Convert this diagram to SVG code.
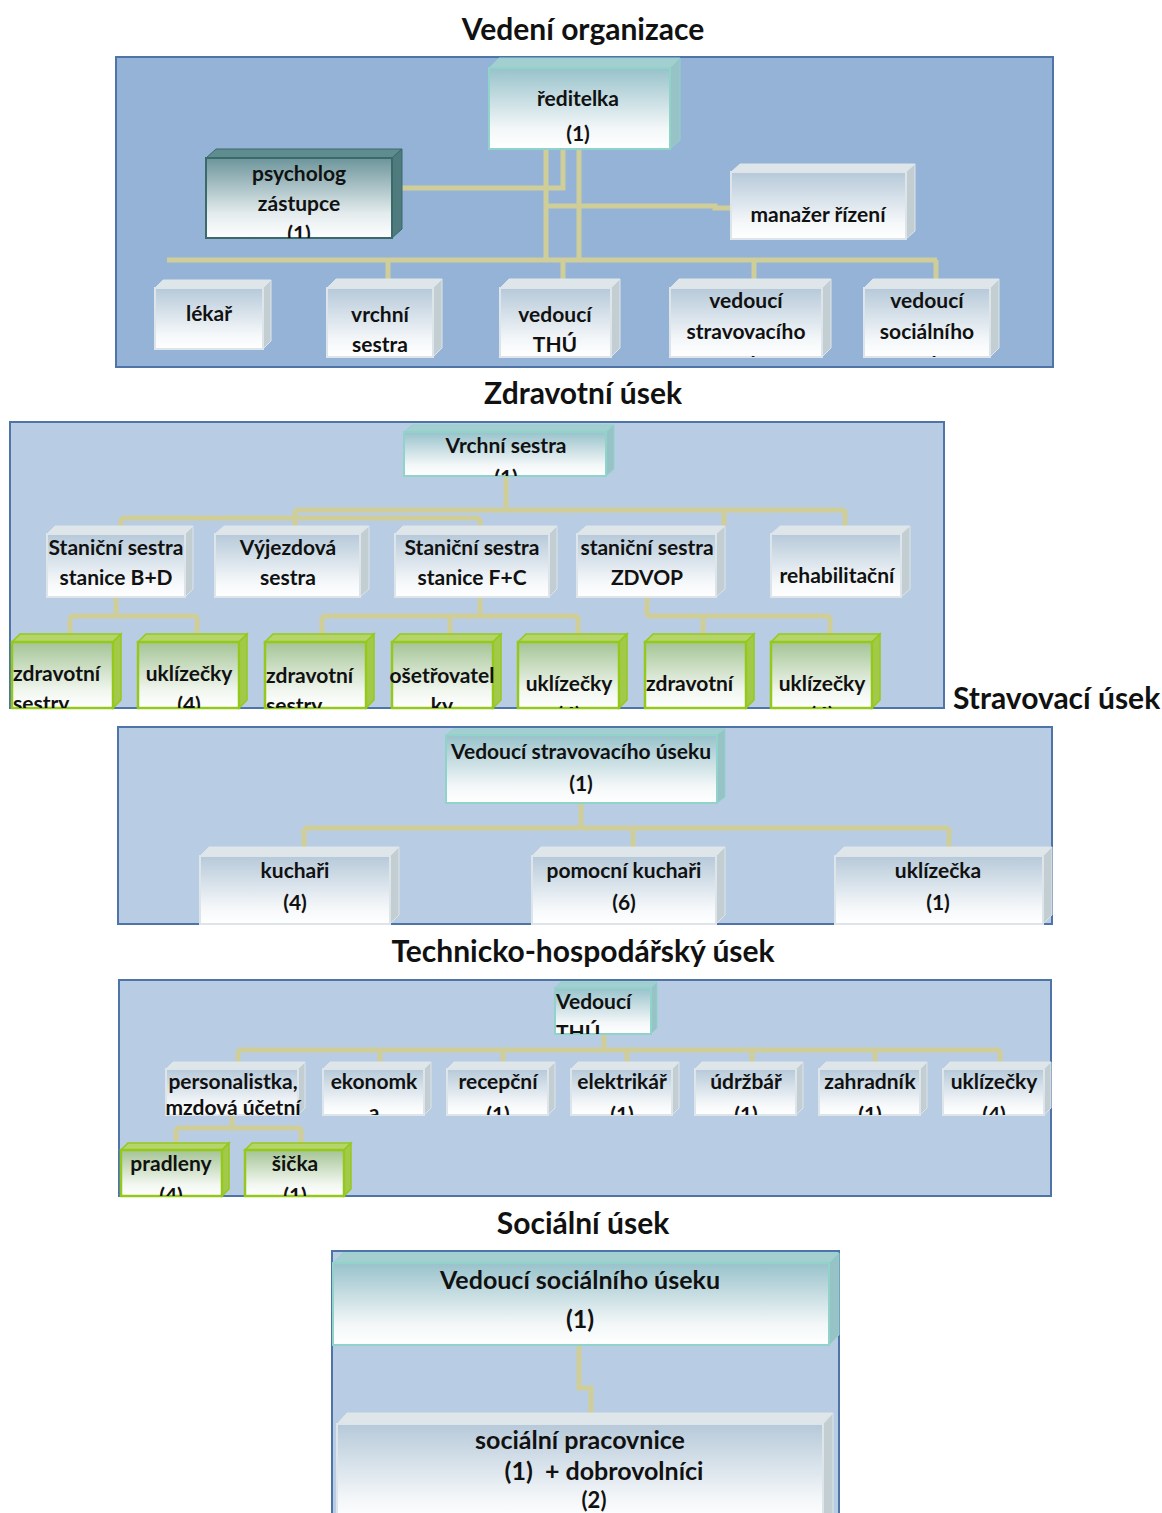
<svg xmlns="http://www.w3.org/2000/svg" width="1162" height="1513" viewBox="0 0 1162 1513">
<defs>
<style>
.bg{fill:#ffffff}
.p1{fill:#95b3d7;stroke:#4f74a8;stroke-width:2}
.p{fill:#b8cce4;stroke:#4f74a8;stroke-width:2}
.c{stroke:#cfcd98;stroke-width:5;fill:none;stroke-linecap:butt}
.t{font-family:Lato,"Open Sans","Liberation Sans",sans-serif;font-weight:bold;font-size:21px;fill:#111;text-anchor:middle}
.t.l{text-anchor:start}
.h{font-family:Lato,"Open Sans","Liberation Sans",sans-serif;font-weight:bold;font-size:30px;fill:#111;text-anchor:middle}
.h.l{text-anchor:start}
.big{font-size:25px}
.gf{fill:url(#gGrey);stroke:#dde5ea;stroke-width:2}
.gt{fill:#dfe6ea;stroke:#dde5ea;stroke-width:1}
.gs{fill:#c3ced3;stroke:#dde5ea;stroke-width:1}
.tf{fill:url(#gTeal);stroke:#8fd3cb;stroke-width:2}
.tt{fill:#a3cfd0;stroke:#8fd3cb;stroke-width:1}
.ts{fill:#97c2c6;stroke:#8fd3cb;stroke-width:1}
.df{fill:url(#gDark);stroke:#3b6a6a;stroke-width:2}
.dt{fill:#5f8c8f;stroke:#3b6a6a;stroke-width:1}
.ds{fill:#4f7a7e;stroke:#3b6a6a;stroke-width:1}
.ef{fill:url(#gGreen);stroke:#94c91c;stroke-width:2.5}
.et{fill:#b5d56a;stroke:#94c91c;stroke-width:1.5}
.es{fill:#a3c94a;stroke:#94c91c;stroke-width:1.5}
</style>
<linearGradient id="gGrey" x1="0" y1="0" x2="0" y2="1"><stop offset="0" stop-color="#b6c9d9"/><stop offset="0.75" stop-color="#f4f7f9"/><stop offset="1" stop-color="#ffffff"/></linearGradient>
<linearGradient id="gTeal" x1="0" y1="0" x2="0" y2="1"><stop offset="0" stop-color="#98c2cb"/><stop offset="0.75" stop-color="#f3f7f8"/><stop offset="1" stop-color="#ffffff"/></linearGradient>
<linearGradient id="gDark" x1="0" y1="0" x2="0" y2="1"><stop offset="0" stop-color="#6c959b"/><stop offset="0.7" stop-color="#e4ecee"/><stop offset="1" stop-color="#ffffff"/></linearGradient>
<linearGradient id="gGreen" x1="0" y1="0" x2="0" y2="1"><stop offset="0" stop-color="#a4c495"/><stop offset="0.75" stop-color="#f2f7f0"/><stop offset="1" stop-color="#ffffff"/></linearGradient>
<clipPath id="cPsych"><rect x="206" y="158" width="186" height="80"/></clipPath>
<clipPath id="cStrav"><rect x="670" y="288" width="152" height="69"/></clipPath>
<clipPath id="cSoc"><rect x="864" y="288" width="126" height="69"/></clipPath>
<clipPath id="cVs"><rect x="404" y="432" width="202" height="44"/></clipPath>
<clipPath id="cRow3"><rect x="0" y="600" width="944" height="108"/></clipPath>
<clipPath id="cVthu"><rect x="555" y="988" width="96" height="46"/></clipPath>
<clipPath id="cRow4"><rect x="119" y="1069" width="932" height="46"/></clipPath>
<clipPath id="cG4"><rect x="119" y="1150" width="300" height="46"/></clipPath>
</defs>
<rect class="bg" x="0" y="0" width="1162" height="1513"/>

<!-- Section titles and panels -->
<g id="section-vedeni">
<text class="h" x="583" y="40">Vedení organizace</text>
<rect class="p1" x="116" y="57" width="937" height="310"/>
</g>
<g id="section-zdravotni">
<text class="h" x="583" y="404">Zdravotní úsek</text>
<rect class="p" x="10" y="422" width="934" height="286"/>
</g>
<g id="section-stravovaci">
<text class="h l" x="953" y="709">Stravovací úsek</text>
<rect class="p" x="118" y="727" width="934" height="197"/>
</g>
<g id="section-thu">
<text class="h" x="583" y="962">Technicko-hospodářský úsek</text>
<rect class="p" x="119" y="980" width="932" height="216"/>
</g>
<g id="section-socialni">
<text class="h" x="583" y="1234">Sociální úsek</text>
<rect class="p" x="332" y="1251" width="507" height="270"/>
</g>

<!-- Connectors -->
<g id="connectors">
<path class="c" d="M546 149V260 M579 149V260 M563 149V188H392 M546 206H715V208H731"/>
<path class="c" d="M167 260H937 M388 258V288 M563 260V279 M754 260V279 M936 260V279"/>
<path class="c" d="M506 476V510 M295 510H845 M121 518H480 M121 518V526 M295 510V526 M480 518V526 M724 510V526 M845 510V526"/>
<path class="c" d="M116 597V616 M70 616H197 M70 616V634 M197 616V634"/>
<path class="c" d="M480 597V616 M322 616H578 M322 616V634 M450 616V634 M578 616V634"/>
<path class="c" d="M647 597V616 M647 616H830 M703 616V634 M830 616V634"/>
<path class="c" d="M581 803V828 M304 828H949 M304 828V847 M633 828V847 M949 828V847"/>
<path class="c" d="M604 1034V1050 M238 1050H1000 M238 1050V1062 M380 1050V1062 M503 1050V1062 M627 1050V1062 M752 1050V1062 M875 1050V1062 M1000 1050V1062"/>
<path class="c" d="M232 1115V1128 M176 1128H301 M176 1128V1143 M301 1128V1143"/>
<path class="c" d="M579 1345V1388H591V1415"/>
</g>

<!-- Section 1 nodes -->
<g id="n-reditelka">
<polygon class="tt" points="489,68 499,58 680,58 670,68"/>
<polygon class="ts" points="670,68 680,58 680,140 670,149"/>
<rect class="tf" x="489" y="68" width="181" height="81"/>
<text class="t" x="578" y="106">ředitelka</text>
<text class="t" x="578" y="141">(1)</text>
</g>
<g id="n-psycholog">
<polygon class="dt" points="206,158 216,149 402,149 392,158"/>
<polygon class="ds" points="392,158 402,149 402,229 392,238"/>
<rect class="df" x="206" y="158" width="186" height="80"/>
<g clip-path="url(#cPsych)">
<text class="t" x="299" y="181">psycholog</text>
<text class="t" x="299" y="211">zástupce</text>
<text class="t" x="299" y="241">(1)</text>
</g>
</g>
<g id="n-manazer">
<polygon class="gt" points="731,172 740,164 915,164 906,172"/>
<polygon class="gs" points="906,172 915,164 915,231 906,239"/>
<rect class="gf" x="731" y="172" width="175" height="67"/>
<text class="t" x="818" y="222">manažer řízení</text>
</g>
<g id="n-lekar">
<polygon class="gt" points="155,288 163,280 271,280 263,288"/>
<polygon class="gs" points="263,288 271,280 271,341 263,349"/>
<rect class="gf" x="155" y="288" width="108" height="61"/>
<text class="t" x="209" y="321">lékař</text>
</g>
<g id="n-vrchni">
<polygon class="gt" points="327,288 336,279 442,279 433,288"/>
<polygon class="gs" points="433,288 442,279 442,348 433,357"/>
<rect class="gf" x="327" y="288" width="106" height="69"/>
<text class="t" x="380" y="322">vrchní</text>
<text class="t" x="380" y="352">sestra</text>
</g>
<g id="n-vedouci-thu">
<polygon class="gt" points="500,288 509,279 620,279 611,288"/>
<polygon class="gs" points="611,288 620,279 620,348 611,357"/>
<rect class="gf" x="500" y="288" width="111" height="69"/>
<text class="t" x="555" y="322">vedoucí</text>
<text class="t" x="555" y="352">THÚ</text>
</g>
<g id="n-vedouci-strav">
<polygon class="gt" points="670,288 679,279 831,279 822,288"/>
<polygon class="gs" points="822,288 831,279 831,348 822,357"/>
<rect class="gf" x="670" y="288" width="152" height="69"/>
<g clip-path="url(#cStrav)">
<text class="t" x="746" y="308">vedoucí</text>
<text class="t" x="746" y="339">stravovacího</text>
<text class="t" x="746" y="372">úseku</text>
</g>
</g>
<g id="n-vedouci-soc">
<polygon class="gt" points="864,288 873,279 999,279 990,288"/>
<polygon class="gs" points="990,288 999,279 999,348 990,357"/>
<rect class="gf" x="864" y="288" width="126" height="69"/>
<g clip-path="url(#cSoc)">
<text class="t" x="927" y="308">vedoucí</text>
<text class="t" x="927" y="339">sociálního</text>
<text class="t" x="927" y="372">úseku</text>
</g>
</g>

<!-- Section 2 nodes -->
<g id="n-vrchni-sestra">
<polygon class="tt" points="404,432 412,425 614,425 606,432"/>
<polygon class="ts" points="606,432 614,425 614,469 606,476"/>
<rect class="tf" x="404" y="432" width="202" height="44"/>
<g clip-path="url(#cVs)">
<text class="t" x="506" y="453">Vrchní sestra</text>
<text class="t" x="506" y="485">(1)</text>
</g>
</g>
<g id="n-stanicni-bd">
<polygon class="gt" points="47,534 55,526 193,526 185,534"/>
<polygon class="gs" points="185,534 193,526 193,589 185,597"/>
<rect class="gf" x="47" y="534" width="138" height="63"/>
<text class="t" x="116" y="555">Staniční sestra</text>
<text class="t" x="116" y="585">stanice B+D</text>
</g>
<g id="n-vyjezdova">
<polygon class="gt" points="215,534 224,526 369,526 360,534"/>
<polygon class="gs" points="360,534 369,526 369,589 360,597"/>
<rect class="gf" x="215" y="534" width="145" height="63"/>
<text class="t" x="288" y="555">Výjezdová</text>
<text class="t" x="288" y="585">sestra</text>
</g>
<g id="n-stanicni-fc">
<polygon class="gt" points="395,534 403,526 557,526 549,534"/>
<polygon class="gs" points="549,534 557,526 557,589 549,597"/>
<rect class="gf" x="395" y="534" width="154" height="63"/>
<text class="t" x="472" y="555">Staniční sestra</text>
<text class="t" x="472" y="585">stanice F+C</text>
</g>
<g id="n-stanicni-zdvop">
<polygon class="gt" points="577,534 586,526 725,526 716,534"/>
<polygon class="gs" points="716,534 725,526 725,589 716,597"/>
<rect class="gf" x="577" y="534" width="139" height="63"/>
<text class="t" x="647" y="555">staniční sestra</text>
<text class="t" x="647" y="585">ZDVOP</text>
</g>
<g id="n-rehabilitacni">
<polygon class="gt" points="771,534 780,526 910,526 901,534"/>
<polygon class="gs" points="901,534 910,526 910,589 901,597"/>
<rect class="gf" x="771" y="534" width="130" height="63"/>
<text class="t" x="837" y="583">rehabilitační</text>
</g>

<g id="n-zs-bd">
<polygon class="et" points="12,642 20,634 121,634 113,642"/>
<polygon class="es" points="113,642 121,634 121,700 113,708"/>
<rect class="ef" x="12" y="642" width="101" height="66"/>
<g clip-path="url(#cRow3)">
<text class="t l" x="13" y="681">zdravotní</text>
<text class="t l" x="13" y="711">sestry</text>
</g>
</g>
<g id="n-uk-bd">
<polygon class="et" points="138,642 146,634 247,634 239,642"/>
<polygon class="es" points="239,642 247,634 247,700 239,708"/>
<rect class="ef" x="138" y="642" width="101" height="66"/>
<g clip-path="url(#cRow3)">
<text class="t" x="189" y="681">uklízečky</text>
<text class="t" x="189" y="712">(4)</text>
</g>
</g>
<g id="n-zs-fc">
<polygon class="et" points="265,642 273,634 374,634 366,642"/>
<polygon class="es" points="366,642 374,634 374,700 366,708"/>
<rect class="ef" x="265" y="642" width="101" height="66"/>
<g clip-path="url(#cRow3)">
<text class="t l" x="266" y="683">zdravotní</text>
<text class="t l" x="266" y="713">sestry</text>
</g>
</g>
<g id="n-osetrovatelky">
<polygon class="et" points="392,642 400,634 501,634 493,642"/>
<polygon class="es" points="493,642 501,634 501,700 493,708"/>
<rect class="ef" x="392" y="642" width="101" height="66"/>
<g clip-path="url(#cRow3)">
<text class="t" x="442" y="683">ošetřovatel</text>
<text class="t" x="442" y="713">ky</text>
</g>
</g>
<g id="n-uk-fc">
<polygon class="et" points="518,642 526,634 627,634 619,642"/>
<polygon class="es" points="619,642 627,634 627,700 619,708"/>
<rect class="ef" x="518" y="642" width="101" height="66"/>
<g clip-path="url(#cRow3)">
<text class="t" x="569" y="691">uklízečky</text>
<text class="t" x="569" y="722">(4)</text>
</g>
</g>
<g id="n-zs-zdvop">
<polygon class="et" points="645,642 653,634 754,634 746,642"/>
<polygon class="es" points="746,642 754,634 754,700 746,708"/>
<rect class="ef" x="645" y="642" width="101" height="66"/>
<g clip-path="url(#cRow3)">
<text class="t l" x="646" y="691">zdravotní</text>
</g>
</g>
<g id="n-uk-zdvop">
<polygon class="et" points="771,642 779,634 880,634 872,642"/>
<polygon class="es" points="872,642 880,634 880,700 872,708"/>
<rect class="ef" x="771" y="642" width="101" height="66"/>
<g clip-path="url(#cRow3)">
<text class="t" x="822" y="691">uklízečky</text>
<text class="t" x="822" y="722">(4)</text>
</g>
</g>

<!-- Section 3 nodes -->
<g id="n-vedouci-strav-useku">
<polygon class="tt" points="446,735 454,729 725,729 717,735"/>
<polygon class="ts" points="717,735 725,729 725,797 717,803"/>
<rect class="tf" x="446" y="735" width="271" height="68"/>
<text class="t" x="581" y="759">Vedoucí stravovacího úseku</text>
<text class="t" x="581" y="791">(1)</text>
</g>
<g id="n-kuchari">
<polygon class="gt" points="200,856 209,847 399,847 390,856"/>
<polygon class="gs" points="390,856 399,847 399,915 390,924"/>
<rect class="gf" x="200" y="856" width="190" height="68"/>
<text class="t" x="295" y="878">kuchaři</text>
<text class="t" x="295" y="910">(4)</text>
</g>
<g id="n-pomocni-kuchari">
<polygon class="gt" points="532,856 541,847 725,847 716,856"/>
<polygon class="gs" points="716,856 725,847 725,915 716,924"/>
<rect class="gf" x="532" y="856" width="184" height="68"/>
<text class="t" x="624" y="878">pomocní kuchaři</text>
<text class="t" x="624" y="910">(6)</text>
</g>
<g id="n-uklizecka">
<polygon class="gt" points="835,856 844,847 1052,847 1043,856"/>
<polygon class="gs" points="1043,856 1052,847 1052,915 1043,924"/>
<rect class="gf" x="835" y="856" width="208" height="68"/>
<text class="t" x="938" y="878">uklízečka</text>
<text class="t" x="938" y="910">(1)</text>
</g>

<!-- Section 4 nodes -->
<g id="n-vedouci-thu2">
<polygon class="tt" points="555,988 561,982 657,982 651,988"/>
<polygon class="ts" points="651,988 657,982 657,1028 651,1034"/>
<rect class="tf" x="555" y="988" width="96" height="46"/>
<g clip-path="url(#cVthu)">
<text class="t l" x="556" y="1009">Vedoucí</text>
<text class="t l" x="556" y="1040">THÚ</text>
</g>
</g>
<g id="n-personalistka">
<polygon class="gt" points="166,1069 173,1062 305,1062 298,1069"/>
<polygon class="gs" points="298,1069 305,1062 305,1108 298,1115"/>
<rect class="gf" x="166" y="1069" width="132" height="46"/>
<g clip-path="url(#cRow4)">
<text class="t" x="233" y="1089">personalistka,</text>
<text class="t" x="233" y="1115">mzdová účetní</text>
</g>
</g>
<g id="n-ekonomka">
<polygon class="gt" points="323,1069 330,1062 431,1062 424,1069"/>
<polygon class="gs" points="424,1069 431,1062 431,1108 424,1115"/>
<rect class="gf" x="323" y="1069" width="101" height="46"/>
<g clip-path="url(#cRow4)">
<text class="t" x="374" y="1089">ekonomk</text>
<text class="t" x="374" y="1120">a</text>
</g>
</g>
<g id="n-recepcni">
<polygon class="gt" points="447,1069 454,1062 555,1062 548,1069"/>
<polygon class="gs" points="548,1069 555,1062 555,1108 548,1115"/>
<rect class="gf" x="447" y="1069" width="101" height="46"/>
<g clip-path="url(#cRow4)">
<text class="t" x="498" y="1089">recepční</text>
<text class="t" x="498" y="1122">(1)</text>
</g>
</g>
<g id="n-elektrikar">
<polygon class="gt" points="571,1069 578,1062 679,1062 672,1069"/>
<polygon class="gs" points="672,1069 679,1062 679,1108 672,1115"/>
<rect class="gf" x="571" y="1069" width="101" height="46"/>
<g clip-path="url(#cRow4)">
<text class="t" x="622" y="1089">elektrikář</text>
<text class="t" x="622" y="1122">(1)</text>
</g>
</g>
<g id="n-udrzbar">
<polygon class="gt" points="695,1069 702,1062 803,1062 796,1069"/>
<polygon class="gs" points="796,1069 803,1062 803,1108 796,1115"/>
<rect class="gf" x="695" y="1069" width="101" height="46"/>
<g clip-path="url(#cRow4)">
<text class="t" x="746" y="1089">údržbář</text>
<text class="t" x="746" y="1122">(1)</text>
</g>
</g>
<g id="n-zahradnik">
<polygon class="gt" points="819,1069 826,1062 927,1062 920,1069"/>
<polygon class="gs" points="920,1069 927,1062 927,1108 920,1115"/>
<rect class="gf" x="819" y="1069" width="101" height="46"/>
<g clip-path="url(#cRow4)">
<text class="t" x="870" y="1089">zahradník</text>
<text class="t" x="870" y="1122">(1)</text>
</g>
</g>
<g id="n-uklizecky-thu">
<polygon class="gt" points="943,1069 950,1062 1051,1062 1044,1069"/>
<polygon class="gs" points="1044,1069 1051,1062 1051,1108 1044,1115"/>
<rect class="gf" x="943" y="1069" width="101" height="46"/>
<g clip-path="url(#cRow4)">
<text class="t" x="994" y="1089">uklízečky</text>
<text class="t" x="994" y="1122">(4)</text>
</g>
</g>
<g id="n-pradleny">
<polygon class="et" points="121,1150 128,1143 229,1143 222,1150"/>
<polygon class="es" points="222,1150 229,1143 229,1189 222,1196"/>
<rect class="ef" x="121" y="1150" width="101" height="46"/>
<g clip-path="url(#cG4)">
<text class="t" x="171" y="1171">pradleny</text>
<text class="t" x="171" y="1203">(4)</text>
</g>
</g>
<g id="n-sicka">
<polygon class="et" points="245,1150 252,1143 351,1143 344,1150"/>
<polygon class="es" points="344,1150 351,1143 351,1189 344,1196"/>
<rect class="ef" x="245" y="1150" width="99" height="46"/>
<g clip-path="url(#cG4)">
<text class="t" x="295" y="1171">šička</text>
<text class="t" x="295" y="1203">(1)</text>
</g>
</g>

<!-- Section 5 nodes -->
<g id="n-vedouci-socialniho-useku">
<polygon class="tt" points="333,1263 343,1253 839,1253 829,1263"/>
<polygon class="ts" points="829,1263 839,1253 839,1335 829,1345"/>
<rect class="tf" x="333" y="1263" width="496" height="82"/>
<text class="t big" x="580" y="1289">Vedoucí sociálního úseku</text>
<text class="t big" x="580" y="1328">(1)</text>
</g>
<g id="n-socialni-pracovnice">
<polygon class="gt" points="337,1424 347,1413 833,1413 823,1424"/>
<polygon class="gs" points="823,1424 833,1413 833,1520 823,1530"/>
<rect class="gf" x="337" y="1424" width="486" height="100"/>
<text class="t big" x="580" y="1449">sociální pracovnice</text>
<text class="t big" x="604" y="1480" xml:space="preserve">(1)  + dobrovolníci</text>
<text class="t big" x="594" y="1508" style="font-size:22px">(2)</text>
</g>
</svg>
